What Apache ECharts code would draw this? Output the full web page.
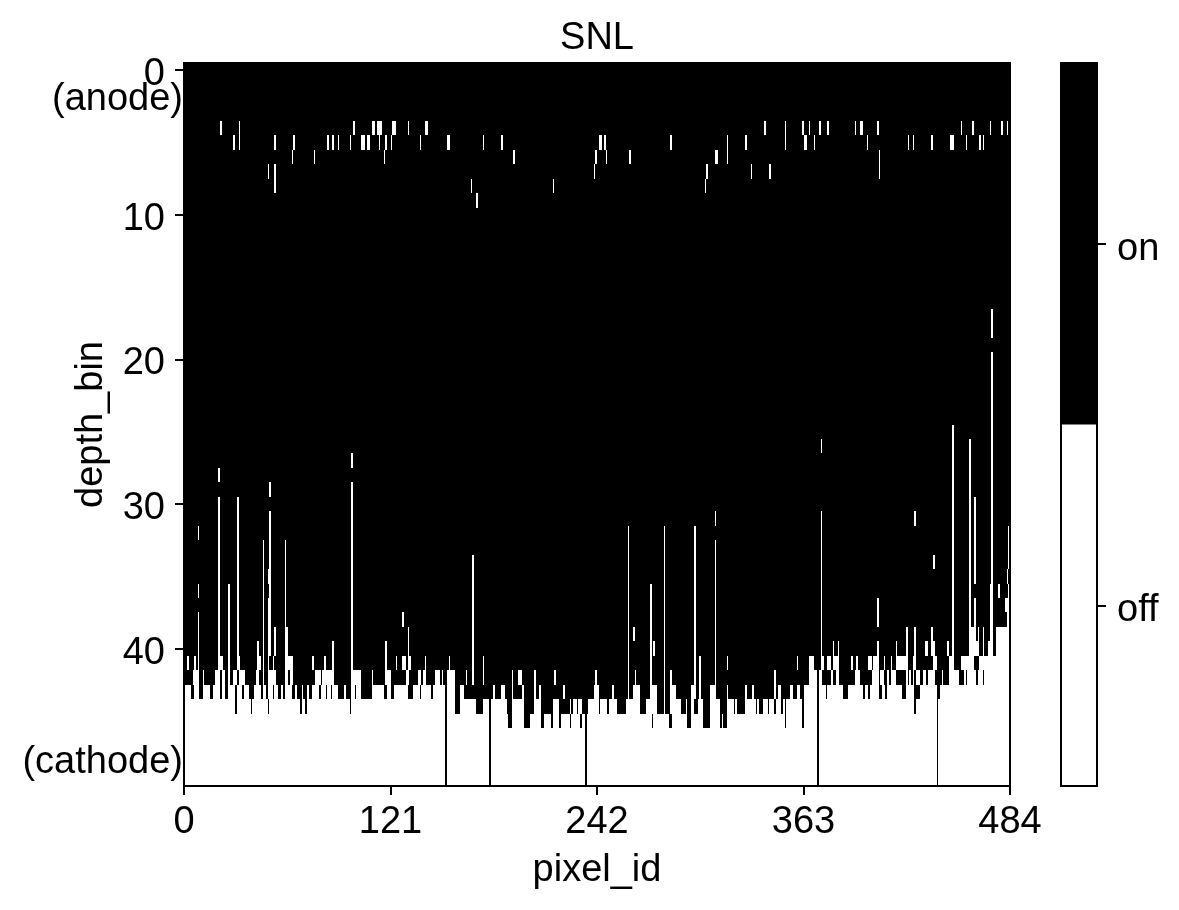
<!DOCTYPE html>
<html>
<head>
<meta charset="utf-8">
<script src="https://cdn.jsdelivr.net/npm/echarts@6/dist/echarts.min.js"></script>
<style>
  html, body { margin: 0; background: #fff; }
  #chart { width: 1179px; height: 910px; }
</style>
</head>
<body>
<div id="chart"></div>
<script>
// columns and rows of the depth map
const pixelCount = 484;
const depthCount = 50;
const xTicks = [0, 121, 242, 363, 484];
const yTicks = [0, 10, 20, 30, 40];
const anodeLabelAt = 1.9;
const cathodeLabelAt = 47.8;
const statusNames = ["off", "on"];

// everything above row 40 is "on", except these cells (a number is one column, a pair a run)
const row4Off = [21, 32, 99, [110, 111], 113, [114, 115], [122, 123], 131, [141, 142], 340, 352, 362, 366, 372, 377, 393, 396, 397, 406, 455, 462, 472, 479, 482];
const row5Off = [29, 32, 53, 64, 84, 87, 90, 97, [104, 105], 107, 108, 114, 118, 121, 138, [154, 155], 175, 186, [243, 244], 246, 285, 318, 329, 352, [363, 364], 369, 400, 424, 427, 438, [449, 450], 458, 466, 468];
const row6Off = [63, 76, 117, 193, 241, 247, 261, 311, 312, 318, 407];
const row7Off = [49, 53, 240, 306, 332, 343, 407];
const row8Off = [53, 168, 216, 305];
const row9Off = [171];

// [column, first row, last row]
const offStreaks = [
  [8, 32, 32], [8, 36, 36], [8, 38, 39], [20, 28, 28], [20, 30, 39], [26, 36, 39], [31, 30, 39],
  [46, 33, 39], [49, 35, 35], [49, 37, 39], [50, 29, 29], [50, 31, 39], [53, 39, 39], [59, 33, 39],
  [60, 39, 39], [98, 27, 27], [98, 29, 39], [128, 38, 38], [131, 39, 39], [169, 34, 39], [260, 32, 39],
  [263, 39, 39], [273, 36, 39], [281, 32, 39], [299, 32, 39], [311, 31, 31], [311, 33, 39], [373, 26, 26],
  [373, 31, 39], [406, 37, 38], [423, 39, 39], [428, 31, 31], [428, 39, 39], [438, 39, 39], [439, 34, 34],
  [450, 25, 39], [460, 26, 39], [461, 39, 39], [462, 39, 39], [463, 30, 35], [463, 37, 39], [465, 39, 39],
  [468, 39, 39], [472, 36, 39], [473, 17, 18], [473, 20, 39], [476, 39, 39], [477, 36, 36], [477, 39, 39],
  [478, 39, 39], [479, 39, 39], [480, 39, 39], [481, 37, 37], [481, 39, 39], [482, 35, 35], [482, 37, 39],
  [483, 32, 34], [483, 36, 39]
];

const row40Off = [8, 20, 26, 31, 43, 46, 49, 50, 53, 59, 60, 87, 98, 118, 131, 169, 260, 273, 275, 281, 299, 311, 373, 380, 383, 406, 417, 423, 428, [434, 435], [438, 439], 447, 450, [460, 465], 468, [471, 473], [476, 483]];
const row41Off = [2, 6, 8, [20, 22], 26, [31, 32], [43, 44], 46, 49, 52, [59, 63], 75, 82, 87, 98, 118, 124, [128, 129], [131, 132], 141, 155, 169, 175, 260, 273, 281, 299, 302, 311, 318, 359, [366, 368], [373, 374], [377, 378], [380, 383], 391, 394, [401, 402], [404, 406], 410, 414, [417, 423], [427, 428], [439, 440], [448, 450], [455, 462], [466, 483]];
const row42Off = [[5, 8], 11, [18, 20], [22, 23], 26, [29, 30], [32, 35], [42, 43], 46, [49, 53], [59, 60], 62, 63, [77, 79], [81, 87], [98, 103], 110, [118, 120], [130, 131], [137, 138], 140, 141, [147, 148], 149, 151, [154, 158], 165, 169, 175, 192, [196, 197], 205, 217, 241, 260, 264, 273, 281, 285, 299, 302, 311, 346, [366, 370], [372, 373], 379, [382, 383], [393, 395], [403, 406], [408, 409], 412, [414, 416], 423, 425, 427, [429, 430], [433, 434], [436, 439], 444, [448, 453], 457, [459, 463], [465, 467], [469, 483]];

// from row 43 down everything is "off", except these
const row43On = [[4, 5], [9, 10], 15, 16, 21, [24, 25], 30, 34, [38, 40], 45, 48, 52, 55, 56, 58, [63, 64], [66, 68], 70, 71, [73, 74], 79, 83, 86, [90, 93], [95, 97], 100, [104, 109], 117, 118, [121, 122], [131, 133], 138, 145, [159, 161], [164, 180], [182, 185], [188, 191], [193, 197], [199, 204], [206, 207], [209, 221], [223, 239], [243, 250], [252, 259], [261, 262], [267, 272], [277, 280], [282, 284], [288, 296], [300, 301], [303, 307], [312, 317], [319, 328], [330, 332], [334, 345], 347, [350, 354], [357, 358], 361, 362, 376, [386, 388], 398, 401, [407, 408], 411, [421, 422], [428, 430], 442];
const row44On = [30, 39, 49, 68, 71, 97, [159, 161], [171, 174], 189, [190, 191], [199, 204], [209, 215], [220, 225], 227, 230, [233, 236], 243, 248, [254, 258], [267, 270], [277, 280], [282, 284], [291, 293], [295, 296], [299, 300], [304, 307], [314, 317], 322, [324, 328], 335, [337, 338], 342, 346, 350, 352, 362, 428];
const row45On = [[190, 191], 199, [200, 202], [209, 210], 215, 220, 226, 232, 274, [284, 285], [295, 296], [304, 307], 314, [316, 317], 352, 362];
const fullOnColumns = [153, 179, 235, 371, 441];

// 1 = on, 0 = off
const depthMap = [];
for (let r = 0; r < depthCount; r++) {
  depthMap.push(new Array(pixelCount).fill(r < 43 ? 1 : 0));
}

function setCells(row, list, v) {
  list.forEach(function (item) {
    const from = Array.isArray(item) ? item[0] : item;
    const to = Array.isArray(item) ? item[1] : item;
    for (let c = from; c <= to; c++) depthMap[row][c] = v;
  });
}

setCells(4, row4Off, 0);
setCells(5, row5Off, 0);
setCells(6, row6Off, 0);
setCells(7, row7Off, 0);
setCells(8, row8Off, 0);
setCells(9, row9Off, 0);
offStreaks.forEach(function (s) {
  for (let r = s[1]; r <= s[2]; r++) depthMap[r][s[0]] = 0;
});
setCells(40, row40Off, 0);
setCells(41, row41Off, 0);
setCells(42, row42Off, 0);
setCells(43, row43On, 1);
setCells(44, row44On, 1);
setCells(45, row45On, 1);
for (let r = 43; r < depthCount; r++) setCells(r, fullOnColumns, 1);

const cells = [];
depthMap.forEach(function (line, r) {
  line.forEach(function (v, c) {
    cells.push([c, r, v]);
  });
});

const fontFamily = "Liberation Sans";
const fontSize = 38;

// each column snaps to whole pixels so the map stays crisp like an image
function renderCell(params, api) {
  const c = api.value(0);
  const r = api.value(1);
  const p0 = api.coord([c, r - 0.5]);
  const p1 = api.coord([c + 1, r + 0.5]);
  const x0 = Math.round(p0[0]);
  const y0 = Math.round(p0[1]);
  return {
    type: "rect",
    shape: { x: x0, y: y0, width: Math.round(p1[0]) - x0, height: Math.round(p1[1]) - y0 },
    style: { fill: api.value(2) ? "#000" : "#fff" },
  };
}

function renderStatus(params, api) {
  const center = api.coord([api.value(0), api.value(1)]);
  const size = api.size([1, 1]);
  return {
    type: "rect",
    shape: { x: center[0] - size[0] / 2, y: center[1] - size[1] / 2, width: size[0], height: size[1] },
    style: { fill: api.value(1) === 1 ? "#000" : "#fff" },
  };
}

const chart = echarts.init(document.getElementById("chart"), null, { renderer: "canvas" });
chart.setOption({
  animation: false,
  backgroundColor: "#fff",
  textStyle: { fontFamily: fontFamily },
  title: {
    text: "SNL",
    left: 592,
    top: 15,
    textAlign: "center",
    textStyle: { fontFamily: fontFamily, fontSize: fontSize, fontWeight: "normal", color: "#000" },
  },
  grid: [
    { left: 184, top: 63, width: 826, height: 723, show: true, z: 10, outerBoundsMode: "none", borderColor: "#000", borderWidth: 2, backgroundColor: "transparent" },
    { left: 1061, top: 63, width: 36, height: 723, show: true, z: 10, outerBoundsMode: "none", borderColor: "#000", borderWidth: 2, backgroundColor: "transparent" },
  ],
  xAxis: [
    {
      type: "value",
      gridIndex: 0,
      position: "bottom",
      min: 0,
      max: pixelCount,
      interval: 121,
      name: "pixel_id",
      nameLocation: "middle",
      nameGap: 66,
      nameMoveOverlap: false,
      nameTextStyle: { fontFamily: fontFamily, fontSize: fontSize, color: "#000" },
      splitLine: { show: false },
      axisLine: { show: true, onZero: false, lineStyle: { color: "#000", width: 2 } },
      axisTick: { show: true, length: 9, lineStyle: { color: "#000", width: 2 }, customValues: xTicks },
      axisLabel: { fontFamily: fontFamily, fontSize: fontSize, color: "#000", margin: 18, customValues: xTicks },
    },
    { type: "category", gridIndex: 1, data: ["status"], show: false },
  ],
  yAxis: [
    {
      type: "value",
      gridIndex: 0,
      inverse: true,
      min: -0.5,
      max: depthCount - 0.5,
      name: "depth_bin",
      nameLocation: "middle",
      nameGap: 73,
      nameMoveOverlap: false,
      nameTextStyle: { fontFamily: fontFamily, fontSize: fontSize, color: "#000" },
      splitLine: { show: false },
      axisLine: { show: false },
      axisTick: { length: 9, lineStyle: { color: "#000", width: 2 }, customValues: yTicks },
      axisLabel: {
        color: "#000",
        margin: 1,
        customValues: yTicks.concat([anodeLabelAt, cathodeLabelAt]),
        formatter: function (v) {
          if (v === anodeLabelAt) return "{end|(anode)}";
          if (v === cathodeLabelAt) return "{end|(cathode)}";
          return "{num|" + v + "}";
        },
        rich: {
          num: { fontFamily: fontFamily, fontSize: fontSize, color: "#000", padding: [9, 18, 0, 0] },
          end: { fontFamily: fontFamily, fontSize: fontSize, color: "#000", padding: [3, 0, 0, 0] },
        },
      },
    },
    {
      type: "category",
      gridIndex: 1,
      position: "right",
      data: statusNames,
      axisLine: { show: false },
      axisTick: { show: true, alignWithLabel: true, length: 9, lineStyle: { color: "#000", width: 2 } },
      axisLabel: {
        margin: 20,
        formatter: "{status|{value}}",
        rich: {
          status: { fontFamily: fontFamily, fontSize: fontSize, color: "#000", padding: [11, 0, 0, 0] },
        },
      },
    },
  ],
  series: [
    {
      type: "custom",
      xAxisIndex: 0,
      yAxisIndex: 0,
      renderItem: renderCell,
      encode: { x: 0, y: 1 },
      data: cells,
      progressive: 0,
      silent: true,
    },
    {
      type: "custom",
      xAxisIndex: 1,
      yAxisIndex: 1,
      renderItem: renderStatus,
      encode: { x: 0, y: 1 },
      data: [[0, 0], [0, 1]],
      silent: true,
    },
  ],
});
</script>
</body>
</html>
